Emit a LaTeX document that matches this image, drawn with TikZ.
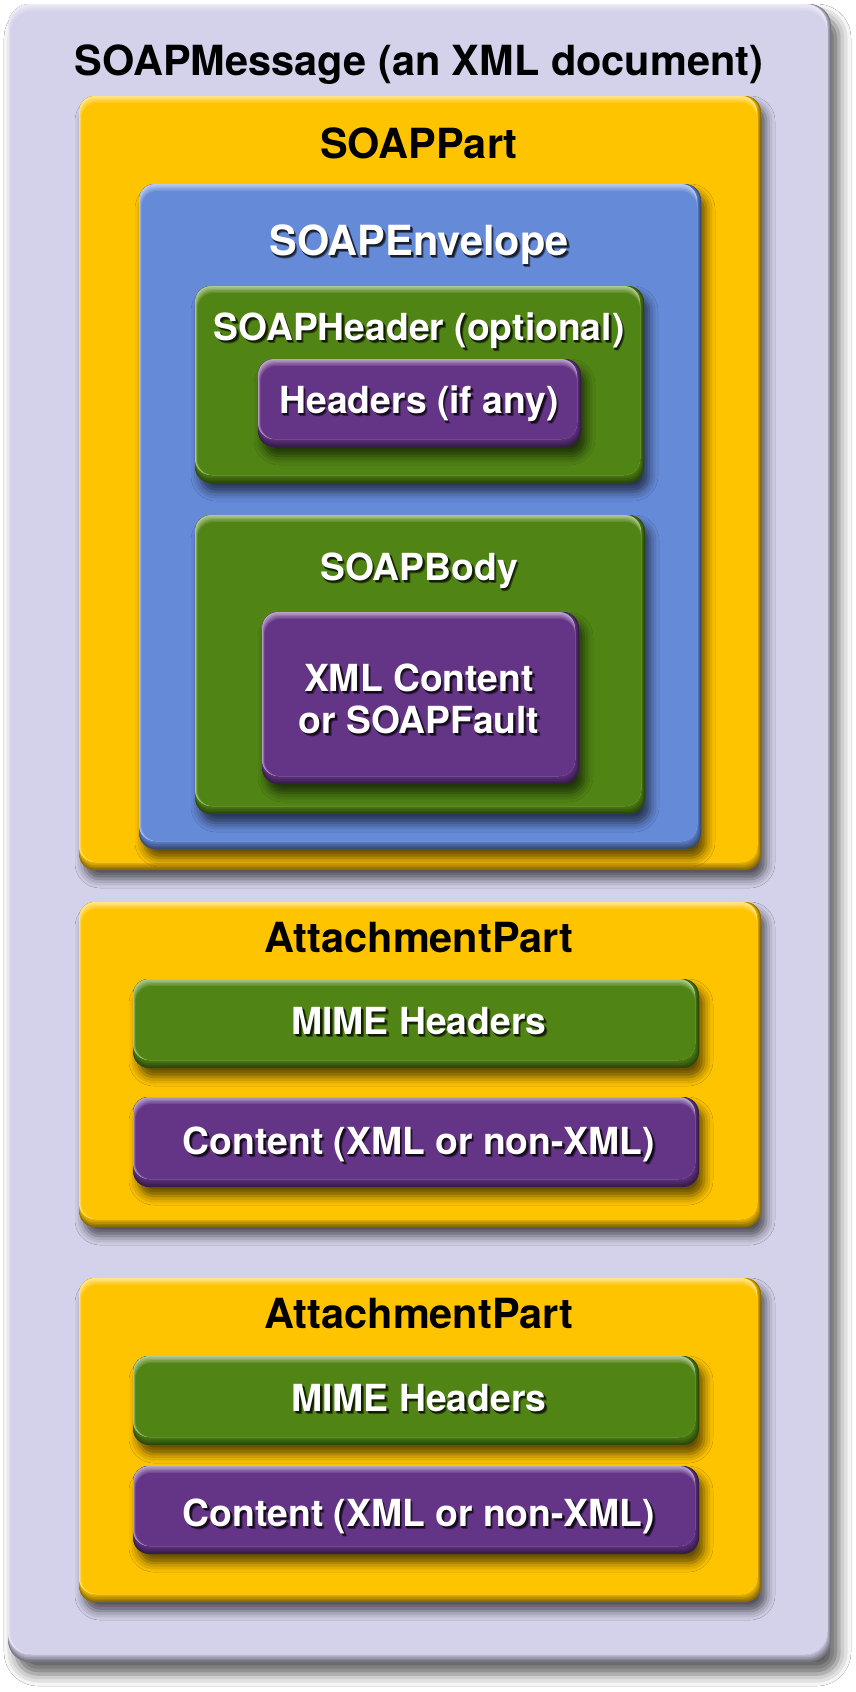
\documentclass[tikz,border=0pt]{standalone}
\usepackage{fontspec}
\setmainfont{TeX Gyre Heros}
\usetikzlibrary{shadows.blur}
\definecolor{lav}{RGB}{212,210,234}
\definecolor{yel}{RGB}{255,196,0}
\definecolor{blu}{RGB}{101,138,216}
\definecolor{grn}{RGB}{80,132,20}
\definecolor{pur}{RGB}{100,52,134}
% bevelled box: x1 y1 x2 y2 colour radius shadow-options
\newcommand{\bevbox}[7]{%
  \fill[rounded corners=#6, blur shadow={#7}, #5!55!black] (#1,#2) rectangle (#3,#4);
  \foreach \i [evaluate=\i as \p using int(55+9*\i)] in {1,...,5}{%
    \fill[rounded corners=#6, #5!\p!black] (#1,#2) rectangle ({#3-0.8*\i},{#4-1.6*\i});
  }%
  \foreach \j [evaluate=\j as \q using int(45+11*\j)] in {0,...,5}{%
    \fill[rounded corners=#6, #5!\q!white] ({#1+0.5*\j},{#2+1.4*\j}) rectangle ({#3-4},{#4-8});
  }%
}
\newcommand{\shadowed}[2]{%
  \rlap{\hspace{2.6pt}\raisebox{-3.4pt}{\textcolor{#1!55!black}{#2}}}%
  \rlap{\hspace{1.6pt}\raisebox{-2.2pt}{\textcolor{#1!22!black}{#2}}}%
  #2}
\tikzset{
  bigtxt/.style={anchor=base, inner sep=0pt, font=\fontsize{41.5}{48}\selectfont\bfseries},
  smalltxt/.style={anchor=base, inner sep=0pt, font=\fontsize{37.3}{42}\selectfont\bfseries},
  wtxt/.style={text=white},
  innershadow/.style={shadow xshift=5pt, shadow yshift=-9pt, shadow blur radius=9pt, shadow opacity=62},
  outershadow/.style={shadow xshift=8pt, shadow yshift=-12pt, shadow blur radius=12pt, shadow opacity=62},
}
\begin{document}
\begin{tikzpicture}[x=1pt, y=-1pt]
\useasboundingbox[fill=white] (0,0) rectangle (856,1692);
% outer message
\bevbox{8}{4}{831}{1662}{lav}{22pt}{outershadow}
\node[bigtxt] (msg) at (419,75) {SOAPMessage (an XML document)};
% SOAP part
\bevbox{79}{96}{761}{870}{yel}{16pt}{innershadow}
\node[bigtxt] (part) at (419,158) {SOAPPart};
\bevbox{139}{184}{701}{849}{blu}{16pt}{innershadow}
\node[bigtxt,wtxt] (env) at (419,255) {\shadowed{blu}{SOAPEnvelope}};
\bevbox{195}{286}{644}{483}{grn}{16pt}{innershadow}
\node[smalltxt,wtxt] (hdr) at (419,340) {\shadowed{grn}{SOAPHeader (optional)}};
\bevbox{258}{359}{581}{447}{pur}{16pt}{innershadow}
\node[smalltxt,wtxt] (hdrs) at (419,413) {\shadowed{pur}{Headers (if any)}};
\bevbox{195}{515}{645}{814}{grn}{16pt}{innershadow}
\node[smalltxt,wtxt] (body) at (419,580) {\shadowed{grn}{SOAPBody}};
\bevbox{262}{612}{579}{784}{pur}{16pt}{innershadow}
\node[smalltxt,wtxt] (xmlA) at (419,691) {\shadowed{pur}{XML Content}};
\node[smalltxt,wtxt] (xmlB) at (419,733) {\shadowed{pur}{or SOAPFault}};
% attachment 1
\bevbox{79}{902}{761}{1227}{yel}{16pt}{innershadow}
\node[bigtxt] (att1) at (419,952) {AttachmentPart};
\bevbox{133}{979}{699}{1068}{grn}{16pt}{innershadow}
\node[smalltxt,wtxt] (mime1) at (419,1034) {\shadowed{grn}{MIME Headers}};
\bevbox{133}{1097}{699}{1187}{pur}{16pt}{innershadow}
\node[smalltxt,wtxt] (cont1) at (419,1154) {\shadowed{pur}{Content (XML or non-XML)}};
% attachment 2
\bevbox{79}{1278}{761}{1602}{yel}{16pt}{innershadow}
\node[bigtxt] (att2) at (419,1328) {AttachmentPart};
\bevbox{133}{1356}{699}{1445}{grn}{16pt}{innershadow}
\node[smalltxt,wtxt] (mime2) at (419,1411) {\shadowed{grn}{MIME Headers}};
\bevbox{133}{1466}{699}{1554}{pur}{16pt}{innershadow}
\node[smalltxt,wtxt] (cont2) at (419,1526) {\shadowed{pur}{Content (XML or non-XML)}};
\end{tikzpicture}
\end{document}
